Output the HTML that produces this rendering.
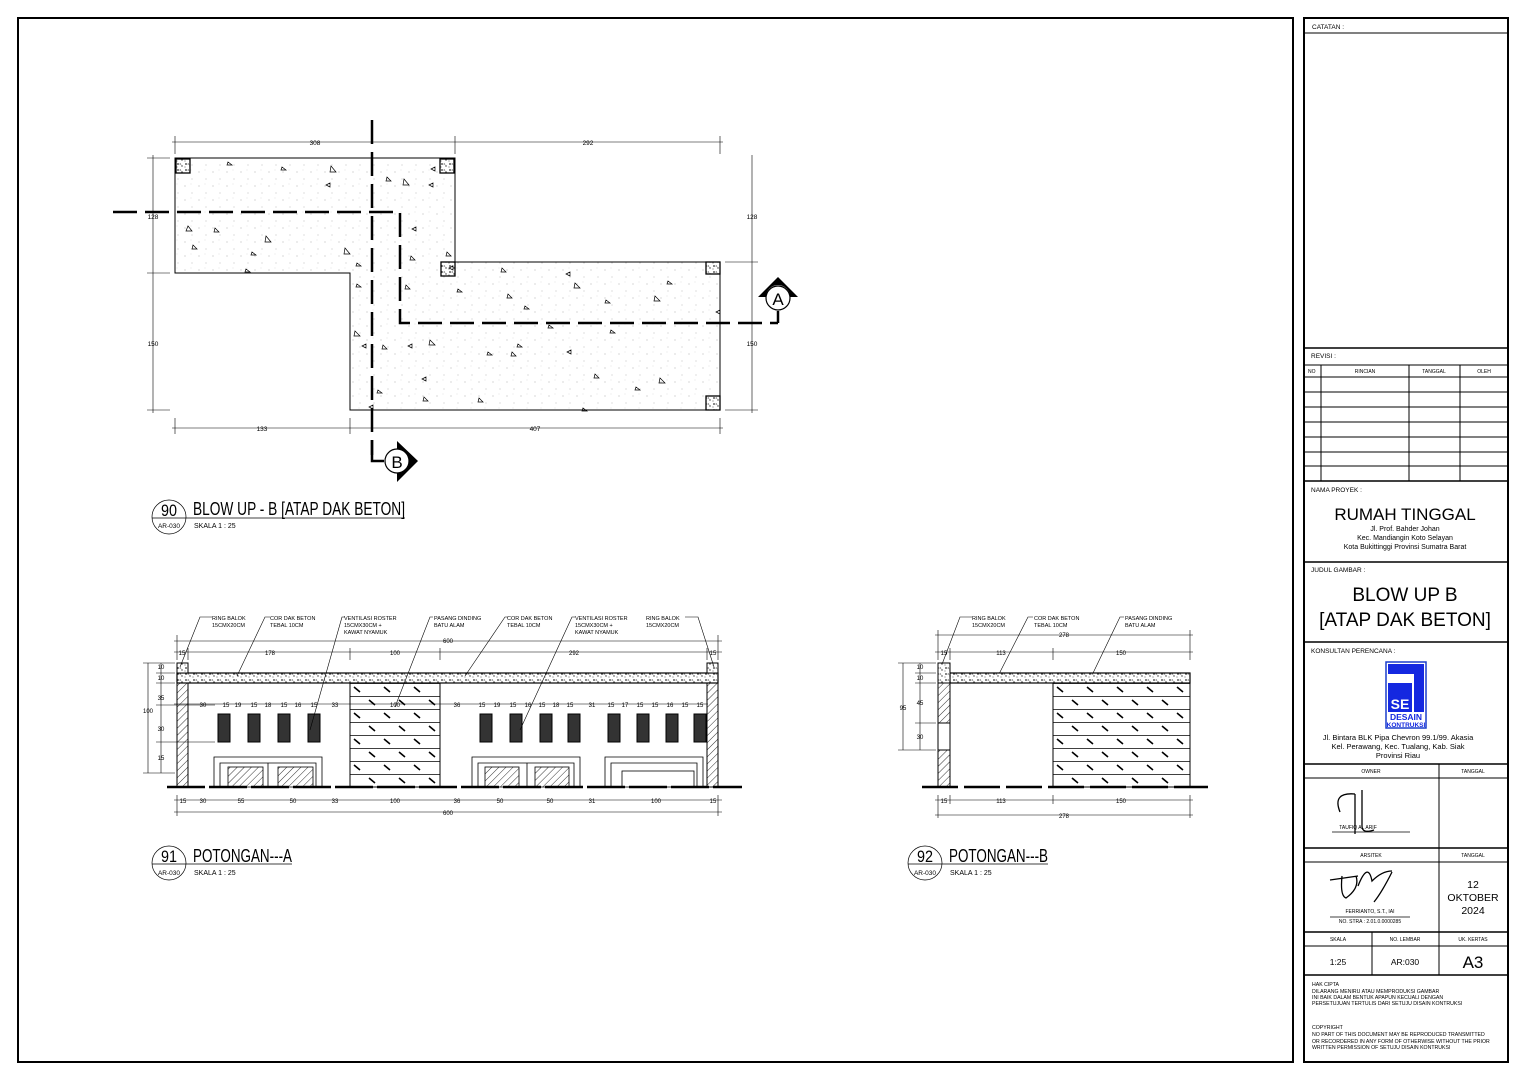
<!DOCTYPE html>
<html><head><meta charset="utf-8"><style>
html,body{margin:0;padding:0;background:#fff}
svg{display:block}
text{font-family:"Liberation Sans",sans-serif;fill:#000}
</style></head><body>
<svg width="1527" height="1080" viewBox="0 0 1527 1080" xmlns="http://www.w3.org/2000/svg">
<defs>
<pattern id="dots" width="14" height="14" patternUnits="userSpaceOnUse">
<circle cx="3" cy="4" r="0.5" fill="#999"/><circle cx="10" cy="11" r="0.5" fill="#aaa"/><circle cx="9" cy="2" r="0.4" fill="#bbb"/>
</pattern>
<pattern id="hatch" width="5" height="5" patternUnits="userSpaceOnUse" patternTransform="rotate(45)">
<line x1="0" y1="0" x2="0" y2="5" stroke="#000" stroke-width="0.8"/>
</pattern>
<pattern id="conc" width="8" height="6" patternUnits="userSpaceOnUse">
<rect width="8" height="6" fill="#fff"/>
<circle cx="2" cy="2" r="0.9" fill="#333"/><circle cx="6" cy="4" r="0.7" fill="#333"/><path d="M4 1 l1.5 1.5 l-2 0z" fill="#555"/><circle cx="1" cy="5" r="0.5" fill="#333"/>
</pattern>
<pattern id="stone" width="30" height="26" patternUnits="userSpaceOnUse" x="350" y="683">
<rect width="30" height="26" fill="#fff"/>
<line x1="0" y1="0.5" x2="30" y2="0.5" stroke="#000" stroke-width="0.7"/>
<line x1="0" y1="13.5" x2="30" y2="13.5" stroke="#000" stroke-width="0.7"/>
<line x1="4" y1="4" x2="10" y2="9" stroke="#000" stroke-width="1.6"/>
<line x1="19" y1="17" x2="25" y2="22" stroke="#000" stroke-width="1.6"/>
</pattern>
<pattern id="stoneB" width="30" height="26" patternUnits="userSpaceOnUse" x="1053" y="683">
<rect width="30" height="26" fill="#fff"/>
<line x1="0" y1="0.5" x2="30" y2="0.5" stroke="#000" stroke-width="0.7"/>
<line x1="0" y1="13.5" x2="30" y2="13.5" stroke="#000" stroke-width="0.7"/>
<line x1="4" y1="4" x2="10" y2="9" stroke="#000" stroke-width="1.6"/>
<line x1="19" y1="17" x2="25" y2="22" stroke="#000" stroke-width="1.6"/>
</pattern>
</defs>
<g fill="none" stroke="#000">
<rect x="18" y="18" width="1275" height="1044" stroke-width="2"/>
<rect x="1304" y="18" width="204" height="1044" stroke-width="2"/>
<line x1="1304" y1="33" x2="1508" y2="33"/>
<line x1="1304" y1="348" x2="1508" y2="348" stroke-width="1.5"/>
<line x1="1304" y1="365" x2="1508" y2="365"/>
<line x1="1304" y1="377" x2="1508" y2="377"/>
<line x1="1304" y1="392" x2="1508" y2="392"/>
<line x1="1304" y1="407" x2="1508" y2="407"/>
<line x1="1304" y1="422" x2="1508" y2="422"/>
<line x1="1304" y1="437" x2="1508" y2="437"/>
<line x1="1304" y1="452" x2="1508" y2="452"/>
<line x1="1304" y1="466" x2="1508" y2="466"/>
<line x1="1321" y1="365" x2="1321" y2="481"/>
<line x1="1409" y1="365" x2="1409" y2="481"/>
<line x1="1460" y1="365" x2="1460" y2="481"/>
<line x1="1304" y1="481" x2="1508" y2="481" stroke-width="1.5"/>
<line x1="1304" y1="562" x2="1508" y2="562" stroke-width="1.5"/>
<line x1="1304" y1="642" x2="1508" y2="642" stroke-width="1.5"/>
<line x1="1304" y1="764" x2="1508" y2="764" stroke-width="1.5"/>
<line x1="1304" y1="778" x2="1508" y2="778"/>
<line x1="1304" y1="848" x2="1508" y2="848" stroke-width="1.5"/>
<line x1="1304" y1="862" x2="1508" y2="862"/>
<line x1="1304" y1="932" x2="1508" y2="932" stroke-width="1.5"/>
<line x1="1304" y1="946" x2="1508" y2="946"/>
<line x1="1304" y1="975" x2="1508" y2="975" stroke-width="1.5"/>
<line x1="1439" y1="764" x2="1439" y2="975"/>
<line x1="1372" y1="932" x2="1372" y2="975"/>
<line x1="1332" y1="832" x2="1410" y2="832" stroke-width="0.8"/>
<line x1="1330" y1="917" x2="1410" y2="917" stroke-width="0.8"/>
<path d="M1340 812 q-8 -20 15 -18 M1355 794 v40 M1362 790 v36 q0 8 12 4" stroke-width="1.3"/>
<path d="M1330 880 l28 -4 M1342 876 q-2 20 4 22 q14 -10 10 -22 M1358 886 q10 -25 14 -5 q10 -10 20 -10 M1392 872 q-10 20 -18 30" stroke-width="1.3"/>
</g>
<rect x="1386" y="662" width="40" height="66" fill="#fff" stroke="#1a3dcc" stroke-width="1.5"/>
<rect x="1388" y="664" width="36" height="10" fill="#1428e0"/>
<rect x="1414" y="664" width="10" height="48" fill="#1428e0"/>
<rect x="1388" y="683" width="24" height="29" fill="#1428e0"/>
<text x="1400" y="709" font-size="14" font-weight="bold" text-anchor="middle" style="fill:#fff">SE</text>
<text x="1406" y="720" font-size="8.5" font-weight="bold" text-anchor="middle" style="fill:#1428e0">DESAIN</text>
<text x="1406" y="727" font-size="6.5" font-weight="bold" text-anchor="middle" style="fill:#1428e0">KONTRUKSI</text>
<g font-size="6.5">
<text x="1312" y="29">CATATAN :</text>
<text x="1311" y="358">REVISI :</text>
<text x="1308" y="373" font-size="5">NO</text>
<text x="1365" y="373" font-size="5" text-anchor="middle">RINCIAN</text>
<text x="1434" y="373" font-size="5" text-anchor="middle">TANGGAL</text>
<text x="1484" y="373" font-size="5" text-anchor="middle">OLEH</text>
<text x="1311" y="492">NAMA PROYEK :</text>
<text x="1311" y="572">JUDUL GAMBAR :</text>
<text x="1311" y="653">KONSULTAN PERENCANA :</text>
<text x="1371" y="773" font-size="5" text-anchor="middle">OWNER</text>
<text x="1473" y="773" font-size="5" text-anchor="middle">TANGGAL</text>
<text x="1371" y="857" font-size="5" text-anchor="middle">ARSITEK</text>
<text x="1473" y="857" font-size="5" text-anchor="middle">TANGGAL</text>
<text x="1338" y="941" font-size="5" text-anchor="middle">SKALA</text>
<text x="1405" y="941" font-size="5" text-anchor="middle">NO. LEMBAR</text>
<text x="1473" y="941" font-size="5" text-anchor="middle">UK. KERTAS</text>
<text x="1358" y="829" font-size="5" text-anchor="middle">TAUFIQ AL ARIF</text>
<text x="1370" y="913" font-size="5" text-anchor="middle">FERRIANTO, S.T., IAI</text>
<text x="1370" y="923" font-size="5" text-anchor="middle">NO.   STRA : 2.01.0.0000285</text>
</g>
<text x="1405" y="520" font-size="17" text-anchor="middle">RUMAH TINGGAL</text>
<text x="1405" y="531" font-size="7" text-anchor="middle">Jl. Prof. Bahder Johan</text>
<text x="1405" y="540" font-size="7" text-anchor="middle">Kec. Mandiangin Koto Selayan</text>
<text x="1405" y="549" font-size="7" text-anchor="middle">Kota Bukittinggi Provinsi Sumatra Barat</text>
<text x="1405" y="601" font-size="19" text-anchor="middle">BLOW UP B</text>
<text x="1405" y="626" font-size="19" text-anchor="middle">[ATAP DAK BETON]</text>
<text x="1398" y="740" font-size="7.5" text-anchor="middle">Jl. Bintara BLK Pipa Chevron 99.1/99. Akasia</text>
<text x="1398" y="749" font-size="7.5" text-anchor="middle">Kel. Perawang, Kec. Tualang, Kab. Siak</text>
<text x="1398" y="758" font-size="7.5" text-anchor="middle">Provinsi Riau</text>
<text x="1473" y="888" font-size="10.5" text-anchor="middle">12</text>
<text x="1473" y="901" font-size="10.5" text-anchor="middle">OKTOBER</text>
<text x="1473" y="914" font-size="10.5" text-anchor="middle">2024</text>
<text x="1338" y="965" font-size="8.5" text-anchor="middle">1:25</text>
<text x="1405" y="965" font-size="8.5" text-anchor="middle">AR:030</text>
<text x="1473" y="968" font-size="17" text-anchor="middle">A3</text>
<g font-size="5.2">
<text x="1312" y="986">HAK CIPTA</text>
<text x="1312" y="993">DILARANG MENIRU ATAU MEMPRODUKSI GAMBAR</text>
<text x="1312" y="999">INI BAIK DALAM BENTUK APAPUN KECUALI DENGAN</text>
<text x="1312" y="1005">PERSETUJUAN TERTULIS DARI SETUJU DISAIN KONTRUKSI</text>
<text x="1312" y="1029">COPYRIGHT</text>
<text x="1312" y="1036">NO PART OF THIS DOCUMENT MAY BE REPRODUCED TRANSMITTED</text>
<text x="1312" y="1043">OR RECORDERED IN ANY FORM OF OTHERWISE WITHOUT THE PRIOR</text>
<text x="1312" y="1049">WRITTEN PERMISSION OF SETUJU DISAIN KONTRUKSI</text>
</g>

<!-- PLAN -->
<path d="M175 158 H455 V262 H720 V410 H350 V273 H175 Z" fill="url(#dots)" stroke="#000" stroke-width="1"/>
<g fill="url(#conc)" stroke="#000" stroke-width="1.3">
<rect x="176" y="159" width="14" height="14"/><rect x="440" y="159" width="14" height="14"/>
<rect x="441" y="262" width="14" height="14"/><rect x="706" y="262" width="14" height="12"/>
<rect x="706" y="396" width="14" height="14"/>
</g>
<g fill="none" stroke="#000" stroke-width="0.7">
<path d="M228 162l4 3h-5z M282 167l4 3h-5z M331 166l5 6h-6z M330 183l-4 2 4 2z M188 226l4 5h-6z M193 245l4 4h-5z M215 228l4 4h-5z M266 236l5 6h-6z M252 252l4 3h-5z M345 248l5 6h-6z M246 269l4 3h-5z M404 179l5 6h-6z M435 167l-4 2 4 2z M433 183l-4 2 4 2z M387 177l4 4h-5z M411 256l4 4h-5z M416 227l-4 2 4 2z M447 252l4 4h-5z M453 266l-4 2 4 2z M502 268l4 4h-5z M570 272l-4 2 4 2z M606 300l4 3h-5z M655 296l5 5h-6z M668 281l4 3h-5z M575 283l5 5h-6z M508 294l4 4h-5z M458 289l4 3h-5z M525 306l4 3h-5z M549 325l4 3h-5z M611 330l4 3h-5z M488 352l4 3h-5z M512 352l4 4h-5z M571 350l-4 2 4 2z M518 344l4 3h-5z M595 374l4 4h-5z M479 398l4 4h-5z M583 408l4 3h-5z M636 387l4 3h-5z M660 378l5 5h-6z M430 340l5 5h-6z M412 344l-4 2 4 2z M383 345l4 4h-5z M355 331l5 5h-6z M366 344l-4 2 4 2z M378 390l4 3h-5z M373 405l-4 2 4 2z M424 397l4 4h-5z M426 377l-4 2 4 2z M406 285l4 4h-5z M357 284l4 3h-5z M357 263l4 3h-5z M720 310l-4 2 4 2z"/>
</g>
<g stroke="#000" stroke-width="2.5" fill="none">
<path d="M113 212 H400 V323 H778" stroke-dasharray="24,8"/>
<path d="M372 120 V455" stroke-dasharray="24,8"/>
<path d="M778 323 V311"/>
<path d="M372 440 V461 H384"/>
</g>
<circle cx="778" cy="298" r="12" fill="#fff" stroke="#000" stroke-width="1.2"/>
<path d="M758 297 L778 277 L798 297 L790 297 A12 12 0 0 0 766 297Z" fill="#000"/>
<text x="778" y="305" font-size="17" text-anchor="middle">A</text>
<circle cx="397" cy="461" r="12" fill="#fff" stroke="#000" stroke-width="1.2"/>
<path d="M397 441 L418 461 L397 482 L397 473 A12 12 0 0 0 397 449Z" fill="#000"/>
<text x="397" y="468" font-size="17" text-anchor="middle">B</text>
<g stroke="#000" stroke-width="0.6" fill="none">
<line x1="172" y1="142" x2="723" y2="142"/>
<line x1="175" y1="136" x2="175" y2="154"/><line x1="455" y1="136" x2="455" y2="154"/><line x1="720" y1="136" x2="720" y2="154"/>
<line x1="153" y1="155" x2="153" y2="413"/>
<line x1="147" y1="158" x2="170" y2="158"/><line x1="147" y1="273" x2="170" y2="273"/><line x1="147" y1="410" x2="170" y2="410"/>
<line x1="752" y1="155" x2="752" y2="413"/>
<line x1="725" y1="262" x2="758" y2="262"/><line x1="725" y1="410" x2="758" y2="410"/>
<line x1="172" y1="428" x2="723" y2="428"/>
<line x1="175" y1="418" x2="175" y2="434"/><line x1="350" y1="418" x2="350" y2="434"/><line x1="720" y1="418" x2="720" y2="434"/>
</g>
<g font-size="6.5" text-anchor="middle">
<text x="315" y="145">308</text><text x="588" y="145">292</text>
<text x="153" y="219">128</text><text x="153" y="346">150</text>
<text x="752" y="219">128</text><text x="752" y="346">150</text>
<text x="262" y="431">133</text><text x="535" y="431">407</text>
</g>
<circle cx="169" cy="517" r="17" fill="none" stroke="#000" stroke-width="0.7"/>
<line x1="152" y1="518" x2="405" y2="518" stroke="#000" stroke-width="0.8"/>
<text x="161" y="516" font-size="17" textLength="16" lengthAdjust="spacingAndGlyphs">90</text>
<text x="169" y="528" font-size="6.5" text-anchor="middle">AR-030</text>
<text x="193" y="515" font-size="18" textLength="212" lengthAdjust="spacingAndGlyphs">BLOW UP - B  [ATAP DAK BETON]</text>
<text x="194" y="528" font-size="7">SKALA    1 : 25</text>

<!-- SECTION A -->
<g stroke="#000" fill="none">
<rect x="177" y="673" width="541" height="10" fill="url(#conc)" stroke-width="1.2"/>
<rect x="177" y="663" width="11" height="10" fill="url(#conc)"/>
<rect x="707" y="663" width="11" height="10" fill="url(#conc)"/>
<rect x="177" y="683" width="11" height="104" fill="url(#hatch)"/>
<rect x="707" y="683" width="11" height="104" fill="url(#hatch)"/>
<rect x="350" y="683" width="90" height="104" fill="url(#stone)"/>
<g stroke-width="0.8">
<path d="M214 787 V757 H322 V787 M220 787 V763 H316 V787 M268 763 V787"/>
<path d="M472 787 V757 H580 V787 M478 787 V763 H574 V787 M527 763 V787"/>
<path d="M605 787 V757 H703 V787 M611 787 V763 H697 V787"/>
<rect x="622" y="771" width="72" height="16"/>
</g>
<g fill="url(#hatch)" stroke-width="0.8">
<rect x="228" y="767" width="35" height="20"/><rect x="278" y="767" width="35" height="20"/>
<rect x="485" y="767" width="34" height="20"/><rect x="535" y="767" width="34" height="20"/>
</g>
<g fill="#333" stroke-width="1">
<rect x="218" y="714" width="12" height="28"/><rect x="248" y="714" width="12" height="28"/><rect x="278" y="714" width="12" height="28"/><rect x="308" y="714" width="12" height="28"/>
<rect x="480" y="714" width="12" height="28"/><rect x="510" y="714" width="12" height="28"/><rect x="540" y="714" width="12" height="28"/><rect x="568" y="714" width="12" height="28"/>
<rect x="608" y="714" width="12" height="28"/><rect x="637" y="714" width="12" height="28"/><rect x="666" y="714" width="12" height="28"/><rect x="694" y="714" width="12" height="28"/>
</g>
<line x1="167" y1="787" x2="742" y2="787" stroke-width="2.5" stroke-dasharray="38,4"/>
<g stroke-width="0.6">
<line x1="174" y1="641" x2="722" y2="641"/><line x1="174" y1="652" x2="722" y2="652"/>
<line x1="177" y1="635" x2="177" y2="660"/><line x1="188" y1="648" x2="188" y2="660"/><line x1="350" y1="648" x2="350" y2="660"/><line x1="440" y1="648" x2="440" y2="660"/><line x1="707" y1="648" x2="707" y2="660"/><line x1="718" y1="635" x2="718" y2="660"/>
<line x1="174" y1="704" x2="708" y2="704"/>
<line x1="174" y1="800" x2="722" y2="800"/><line x1="174" y1="812" x2="722" y2="812"/>
<line x1="177" y1="795" x2="177" y2="816"/><line x1="718" y1="795" x2="718" y2="816"/>
<line x1="148" y1="663" x2="148" y2="773"/><line x1="161" y1="663" x2="161" y2="773"/>
<line x1="143" y1="663" x2="175" y2="663"/><line x1="143" y1="773" x2="175" y2="773"/><line x1="156" y1="673" x2="175" y2="673"/><line x1="156" y1="683" x2="175" y2="683"/><line x1="156" y1="705" x2="215" y2="705"/><line x1="156" y1="742" x2="215" y2="742"/>
<path d="M180 667 L200 617 H212 M237 676 L265 617 H270 M310 730 L342 617 H345 M395 707 L430 617 H433 M465 676 L505 617 H508 M520 730 L572 617 H575 M714 667 L698 617 H685"/>
<path d="M941 667 L960 617 H972 M997 678 L1028 617 H1033 M1082 696 L1120 617 H1124"/>
</g>
</g>
<g font-size="5.5">
<text x="212" y="620">RING BALOK</text><text x="212" y="627">15CMX20CM</text>
<text x="270" y="620">COR DAK BETON</text><text x="270" y="627">TEBAL 10CM</text>
<text x="344" y="620">VENTILASI ROSTER</text><text x="344" y="627">15CMX30CM +</text><text x="344" y="634">KAWAT NYAMUK</text>
<text x="434" y="620">PASANG DINDING</text><text x="434" y="627">BATU ALAM</text>
<text x="507" y="620">COR DAK BETON</text><text x="507" y="627">TEBAL 10CM</text>
<text x="575" y="620">VENTILASI ROSTER</text><text x="575" y="627">15CMX30CM +</text><text x="575" y="634">KAWAT NYAMUK</text>
<text x="646" y="620">RING BALOK</text><text x="646" y="627">15CMX20CM</text>
<text x="972" y="620">RING BALOK</text><text x="972" y="627">15CMX20CM</text>
<text x="1034" y="620">COR DAK BETON</text><text x="1034" y="627">TEBAL 10CM</text>
<text x="1125" y="620">PASANG DINDING</text><text x="1125" y="627">BATU ALAM</text>
</g>
<g font-size="6" text-anchor="middle">
<text x="448" y="643">600</text><text x="182" y="655">15</text><text x="270" y="655">178</text><text x="395" y="655">100</text><text x="574" y="655">292</text><text x="713" y="655">15</text>
<text x="448" y="815">600</text><text x="183" y="803">15</text><text x="203" y="803">30</text><text x="241" y="803">55</text><text x="293" y="803">50</text><text x="335" y="803">33</text><text x="395" y="803">100</text><text x="457" y="803">36</text><text x="500" y="803">50</text><text x="550" y="803">50</text><text x="592" y="803">31</text><text x="656" y="803">100</text><text x="713" y="803">15</text>
<text x="148" y="713">100</text><text x="161" y="669">10</text><text x="161" y="680">10</text><text x="161" y="700">35</text><text x="161" y="731">30</text><text x="161" y="760">15</text>
<text x="203" y="707">30</text><text x="226" y="707">15</text><text x="238" y="707">19</text><text x="254" y="707">15</text><text x="268" y="707">18</text><text x="284" y="707">15</text><text x="298" y="707">16</text><text x="314" y="707">15</text><text x="335" y="707">33</text><text x="395" y="707">100</text><text x="457" y="707">36</text><text x="482" y="707">15</text><text x="497" y="707">19</text><text x="513" y="707">15</text><text x="528" y="707">16</text><text x="542" y="707">15</text><text x="556" y="707">18</text><text x="570" y="707">15</text><text x="592" y="707">31</text><text x="611" y="707">15</text><text x="625" y="707">17</text><text x="640" y="707">15</text><text x="655" y="707">15</text><text x="670" y="707">16</text><text x="685" y="707">15</text><text x="700" y="707">15</text>
</g>
<circle cx="169" cy="863" r="17" fill="none" stroke="#000" stroke-width="0.7"/>
<line x1="152" y1="864" x2="292" y2="864" stroke="#000" stroke-width="0.8"/>
<text x="161" y="862" font-size="17" textLength="16" lengthAdjust="spacingAndGlyphs">91</text>
<text x="169" y="875" font-size="6.5" text-anchor="middle">AR-030</text>
<text x="193" y="862" font-size="18" textLength="99" lengthAdjust="spacingAndGlyphs">POTONGAN---A</text>
<text x="194" y="875" font-size="7">SKALA    1 : 25</text>

<!-- SECTION B -->
<g stroke="#000" fill="none">
<rect x="950" y="673" width="240" height="10" fill="url(#conc)" stroke-width="1.2"/>
<rect x="938" y="663" width="12" height="20" fill="url(#conc)"/>
<rect x="938" y="683" width="12" height="40" fill="url(#hatch)"/>
<rect x="938" y="723" width="12" height="27"/>
<rect x="938" y="750" width="12" height="37" fill="url(#hatch)"/>
<rect x="1053" y="683" width="137" height="104" fill="url(#stoneB)"/>
<line x1="922" y1="787" x2="1208" y2="787" stroke-width="2.5" stroke-dasharray="36,6"/>
<g stroke-width="0.6">
<line x1="935" y1="635" x2="1193" y2="635"/><line x1="935" y1="652" x2="1193" y2="652"/>
<line x1="938" y1="630" x2="938" y2="660"/><line x1="950" y1="648" x2="950" y2="660"/><line x1="1053" y1="648" x2="1053" y2="660"/><line x1="1190" y1="630" x2="1190" y2="660"/>
<line x1="935" y1="800" x2="1193" y2="800"/><line x1="935" y1="815" x2="1193" y2="815"/>
<line x1="938" y1="795" x2="938" y2="818"/><line x1="950" y1="795" x2="950" y2="804"/><line x1="1053" y1="795" x2="1053" y2="804"/><line x1="1190" y1="795" x2="1190" y2="818"/>
<line x1="903" y1="663" x2="903" y2="750"/><line x1="920" y1="663" x2="920" y2="750"/>
<line x1="898" y1="663" x2="936" y2="663"/><line x1="898" y1="750" x2="936" y2="750"/><line x1="915" y1="673" x2="936" y2="673"/><line x1="915" y1="683" x2="936" y2="683"/><line x1="915" y1="723" x2="936" y2="723"/>
</g>
</g>
<g font-size="6" text-anchor="middle">
<text x="1064" y="637">278</text><text x="944" y="655">15</text><text x="1001" y="655">113</text><text x="1121" y="655">150</text>
<text x="944" y="803">15</text><text x="1001" y="803">113</text><text x="1121" y="803">150</text><text x="1064" y="818">278</text>
<text x="903" y="710">95</text><text x="920" y="669">10</text><text x="920" y="680">10</text><text x="920" y="705">45</text><text x="920" y="739">30</text>
</g>
<circle cx="925" cy="863" r="17" fill="none" stroke="#000" stroke-width="0.7"/>
<line x1="908" y1="864" x2="1048" y2="864" stroke="#000" stroke-width="0.8"/>
<text x="917" y="862" font-size="17" textLength="16" lengthAdjust="spacingAndGlyphs">92</text>
<text x="925" y="875" font-size="6.5" text-anchor="middle">AR-030</text>
<text x="949" y="862" font-size="18" textLength="99" lengthAdjust="spacingAndGlyphs">POTONGAN---B</text>
<text x="950" y="875" font-size="7">SKALA    1 : 25</text>
</svg>
</body></html>
